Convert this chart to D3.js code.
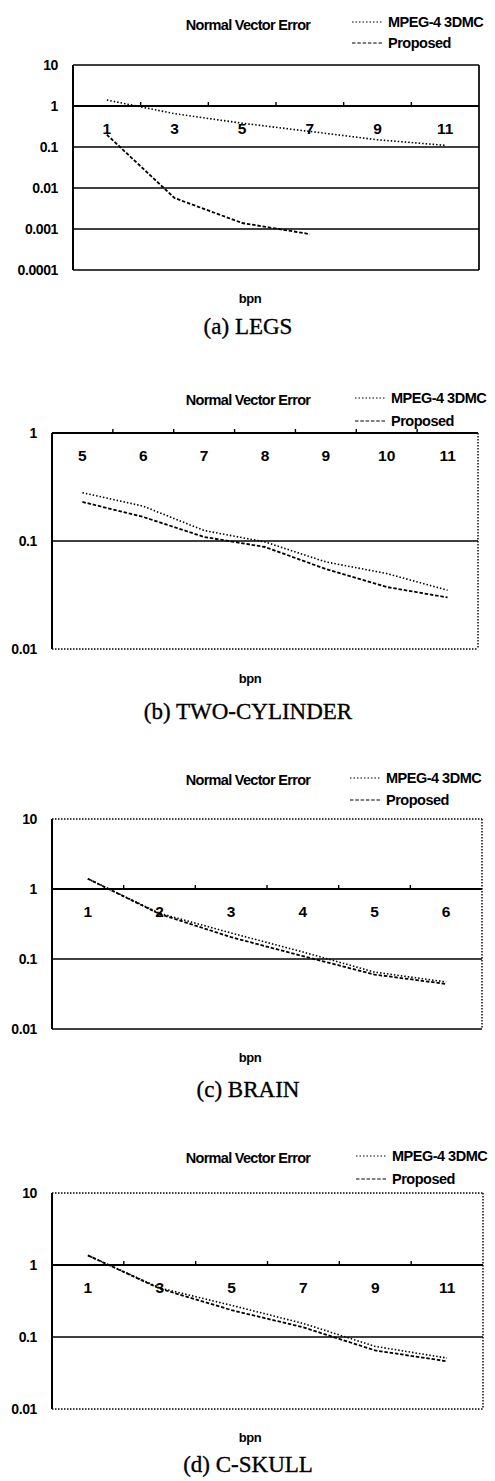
<!DOCTYPE html>
<html><head><meta charset="utf-8">
<script src="https://cdn.jsdelivr.net/npm/d3@7"></script>
<style>
body{margin:0;background:#fff;}
svg{display:block;}
</style></head>
<body>
<svg id="c" width="495" height="1481"></svg>
<script>
// ---- data ----
const seriesNames = ["MPEG-4 3DMC", "Proposed"];
const titleText = "Normal Vector Error";
const xLabelText = "bpn";

const legsCats = [1, 3, 5, 7, 9, 11];
const legsMpeg = [1.4, 0.65, 0.38, 0.24, 0.15, 0.11];
const legsProp = [0.2, 0.0057, 0.0014, 0.00075];
const legsTicks = [0.0001, 0.001, 0.01, 0.1, 1, 10];
const legsTickLabels = ["0.0001", "0.001", "0.01", "0.1", "1", "10"];

const cylCats = [5, 6, 7, 8, 9, 10, 11];
const cylMpeg = [0.28, 0.21, 0.125, 0.098, 0.064, 0.05, 0.035];
const cylProp = [0.23, 0.167, 0.109, 0.088, 0.055, 0.0375, 0.03];
const cylTicks = [0.01, 0.1, 1];
const cylTickLabels = ["0.01", "0.1", "1"];

const brainCats = [1, 2, 3, 4, 5, 6];
const brainMpeg = [1.4, 0.45, 0.235, 0.126, 0.065, 0.047];
const brainProp = [1.4, 0.44, 0.205, 0.11, 0.06, 0.044];
const brainTicks = [0.01, 0.1, 1, 10];
const brainTickLabels = ["0.01", "0.1", "1", "10"];

const skullCats = [1, 3, 5, 7, 9, 11];
const skullMpeg = [1.36, 0.48, 0.275, 0.154, 0.074, 0.051];
const skullProp = [1.36, 0.47, 0.236, 0.136, 0.065, 0.046];
const skullTicks = [0.01, 0.1, 1, 10];
const skullTickLabels = ["0.01", "0.1", "1", "10"];

const captions = ["(a) LEGS", "(b) TWO-CYLINDER", "(c) BRAIN", "(d) C-SKULL"];

// ---- layout ----
const panels = [
  {cats: legsCats, mpeg: legsMpeg, prop: legsProp, ticks: legsTicks, tickLabels: legsTickLabels, cap: captions[0],
   L: 73, R: 479, T: 65, B: 270, titleY: 25, legY: [22, 43], legX: 352, bpnY: 298, capY: 326, dottedFrame: false, bottomDotted: false},
  {cats: cylCats, mpeg: cylMpeg, prop: cylProp, ticks: cylTicks, tickLabels: cylTickLabels, cap: captions[1],
   L: 52, R: 478, T: 433, B: 649, titleY: 400, legY: [398, 421], legX: 355, bpnY: 678, capY: 711, dottedFrame: true, bottomDotted: true},
  {cats: brainCats, mpeg: brainMpeg, prop: brainProp, ticks: brainTicks, tickLabels: brainTickLabels, cap: captions[2],
   L: 52, R: 482, T: 819, B: 1029, titleY: 780, legY: [778, 800], legX: 350, bpnY: 1057, capY: 1089, dottedFrame: true, bottomDotted: false},
  {cats: skullCats, mpeg: skullMpeg, prop: skullProp, ticks: skullTicks, tickLabels: skullTickLabels, cap: captions[3],
   L: 52, R: 483, T: 1193, B: 1409, titleY: 1158, legY: [1156, 1179], legX: 356, bpnY: 1437, capY: 1464, dottedFrame: true, bottomDotted: true}
];

const svg = d3.select("#c");
const sans = "'Liberation Sans', Arial, sans-serif";
const serif = "'Liberation Serif', 'Times New Roman', serif";
const MPEG_DASH = "1.5,2";
const PROP_DASH = "3.5,1.8";

panels.forEach(p => {
  const g = svg.append("g");
  const x = d3.scaleBand().domain(p.cats).range([p.L, p.R]);
  const y = d3.scaleLog().domain([d3.min(p.ticks), d3.max(p.ticks)]).range([p.B, p.T]);

  // gridlines (interior decades)
  g.selectAll("line.grid").data(p.ticks.filter(t => t !== d3.min(p.ticks) && t !== d3.max(p.ticks)))
    .enter().append("line")
    .attr("x1", p.L).attr("x2", p.R).attr("y1", d => y(d)).attr("y2", d => y(d))
    .attr("stroke", "#000").attr("stroke-width", 1.7);

  // frame
  const frameDash = p.dottedFrame ? "1.5,1.5" : null;
  g.append("line").attr("x1", p.L).attr("x2", p.R).attr("y1", p.T).attr("y2", p.T)
    .attr("stroke", "#000").attr("stroke-width", p.dottedFrame ? 1.4 : 1.7).attr("stroke-dasharray", frameDash);
  g.append("line").attr("x1", p.R).attr("x2", p.R).attr("y1", p.T).attr("y2", p.B)
    .attr("stroke", "#000").attr("stroke-width", p.dottedFrame ? 1.4 : 1.7).attr("stroke-dasharray", frameDash);
  g.append("line").attr("x1", p.L).attr("x2", p.R).attr("y1", p.B).attr("y2", p.B)
    .attr("stroke", "#000").attr("stroke-width", p.bottomDotted ? 1.4 : 1.7).attr("stroke-dasharray", p.bottomDotted ? "1.5,1.5" : null);
  g.append("line").attr("x1", p.L).attr("x2", p.L).attr("y1", p.T).attr("y2", p.B)
    .attr("stroke", "#000").attr("stroke-width", 2);

  // y axis labels
  const yAxis = d3.axisLeft(y).tickValues(p.ticks)
    .tickFormat((d, i) => p.tickLabels[i]).tickSize(0).tickPadding(15);
  const ya = g.append("g").attr("transform", `translate(${p.L},0)`).call(yAxis);
  ya.select(".domain").remove();
  ya.selectAll("text").attr("font-family", sans).attr("font-weight", "bold")
    .attr("font-size", 14).attr("fill", "#000").attr("letter-spacing", -0.4);

  // category axis crossing at 1
  const y1 = y(1);
  const xAxis = d3.axisBottom(x).tickSize(0).tickPadding(17);
  const xa = g.append("g").attr("transform", `translate(0,${y1})`).call(xAxis);
  xa.select(".domain").remove();
  xa.selectAll("text").attr("font-family", sans).attr("font-weight", "bold")
    .attr("font-size", 15.5).attr("fill", "#000");
  // tick marks at band boundaries (upward)
  g.selectAll("line.btick").data(p.cats.slice(1))
    .enter().append("line")
    .attr("x1", d => x(d)).attr("x2", d => x(d))
    .attr("y1", y1).attr("y2", y1 - 4)
    .attr("stroke", "#000").attr("stroke-width", 1.4);
  g.append("line").attr("x1", p.L).attr("x2", p.R).attr("y1", y1).attr("y2", y1)
    .attr("stroke", "#000").attr("stroke-width", 1.9);

  // series lines
  const line = d3.line().x((d, i) => x(p.cats[i]) + x.bandwidth() / 2).y(d => y(d));
  g.append("path").datum(p.mpeg).attr("d", line).attr("fill", "none")
    .attr("stroke", "#000").attr("stroke-width", 1.6).attr("stroke-dasharray", MPEG_DASH);
  g.append("path").datum(p.prop).attr("d", line).attr("fill", "none")
    .attr("stroke", "#000").attr("stroke-width", 1.8).attr("stroke-dasharray", PROP_DASH);

  // title
  g.append("text").attr("x", 248).attr("y", p.titleY).attr("dy", "0.35em")
    .attr("text-anchor", "middle").attr("font-family", sans).attr("font-weight", "bold")
    .attr("font-size", 14.5).attr("letter-spacing", -0.7).text(titleText);

  // legend
  const dashes = [MPEG_DASH, PROP_DASH];
  seriesNames.forEach((name, i) => {
    g.append("line").attr("x1", p.legX).attr("x2", p.legX + 31)
      .attr("y1", p.legY[i]).attr("y2", p.legY[i])
      .attr("stroke", "#000").attr("stroke-width", 1.2).attr("stroke-dasharray", dashes[i]);
    g.append("text").attr("x", p.legX + 36).attr("y", p.legY[i]).attr("dy", "0.35em")
      .attr("font-family", sans).attr("font-weight", "bold").attr("font-size", 14.5)
      .attr("letter-spacing", -0.5).text(name);
  });

  // x label
  g.append("text").attr("x", 250).attr("y", p.bpnY).attr("dy", "0.35em")
    .attr("text-anchor", "middle").attr("font-family", sans).attr("font-weight", "bold")
    .attr("font-size", 13).attr("letter-spacing", -0.4).text(xLabelText);

  // caption
  g.append("text").attr("x", 248).attr("y", p.capY).attr("dy", "0.35em")
    .attr("text-anchor", "middle").attr("font-family", serif)
    .attr("font-size", 23).attr("stroke", "#000").attr("stroke-width", 0.35).text(p.cap);
});
</script>
</body></html>
